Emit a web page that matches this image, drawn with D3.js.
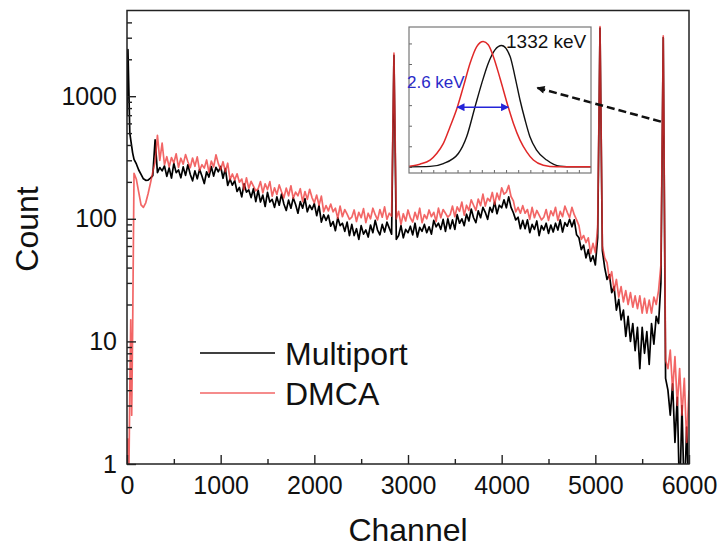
<!DOCTYPE html>
<html>
<head>
<meta charset="utf-8">
<script src="https://cdn.jsdelivr.net/npm/d3@7"></script>
<style>
  body { margin: 0; background: #fff; }
  svg { display: block; font-family: "Liberation Sans", Arial, sans-serif; }
</style>
</head>
<body>
<div id="chart"></div>
<script>
// spectrum channels (denser at the very start)
const channels = [
  0, 10, 20, 30, 40, 50, 60, 75, 100, 125, 150, 175, 200, 225, 250, 275, 300, 325, 350, 375,
  400, 425, 450, 475, 500, 525, 550, 575, 600, 625, 650, 675, 700, 725, 750, 775, 800, 825, 850, 875,
  900, 925, 950, 975, 1000, 1025, 1050, 1075, 1100, 1125, 1150, 1175, 1200, 1225, 1250, 1275, 1300, 1325, 1350, 1375,
  1400, 1425, 1450, 1475, 1500, 1525, 1550, 1575, 1600, 1625, 1650, 1675, 1700, 1725, 1750, 1775, 1800, 1825, 1850, 1875,
  1900, 1925, 1950, 1975, 2000, 2025, 2050, 2075, 2100, 2125, 2150, 2175, 2200, 2225, 2250, 2275, 2300, 2325, 2350, 2375,
  2400, 2425, 2450, 2475, 2500, 2525, 2550, 2575, 2600, 2625, 2650, 2675, 2700, 2725, 2750, 2775, 2800, 2825, 2850, 2875,
  2900, 2925, 2950, 2975, 3000, 3025, 3050, 3075, 3100, 3125, 3150, 3175, 3200, 3225, 3250, 3275, 3300, 3325, 3350, 3375,
  3400, 3425, 3450, 3475, 3500, 3525, 3550, 3575, 3600, 3625, 3650, 3675, 3700, 3725, 3750, 3775, 3800, 3825, 3850, 3875,
  3900, 3925, 3950, 3975, 4000, 4025, 4050, 4075, 4100, 4125, 4150, 4175, 4200, 4225, 4250, 4275, 4300, 4325, 4350, 4375,
  4400, 4425, 4450, 4475, 4500, 4525, 4550, 4575, 4600, 4625, 4650, 4675, 4700, 4725, 4750, 4775, 4800, 4825, 4850, 4875,
  4900, 4925, 4950, 4975, 5000, 5025, 5050, 5075, 5100, 5125, 5150, 5175, 5200, 5225, 5250, 5275, 5300, 5325, 5350, 5375,
  5400, 5425, 5450, 5475, 5500, 5525, 5550, 5575, 5600, 5625, 5650, 5675, 5700, 5725, 5750, 5775, 5800, 5825, 5850, 5875,
  5900, 5925, 5950, 5975, 6000
];

const multiport = [
  700, 2400, 1100, 500, 440, 390, 345, 305, 280, 250, 230, 212, 206, 207, 215, 225, 440, 238, 262, 246,
  270, 222, 260, 215, 283, 238, 250, 216, 265, 226, 276, 231, 204, 246, 212, 253, 223, 194, 242, 219,
  267, 223, 263, 242, 267, 214, 257, 187, 211, 188, 205, 167, 180, 151, 193, 165, 172, 149, 176, 138,
  171, 137, 156, 126, 164, 137, 144, 124, 151, 129, 159, 132, 117, 142, 122, 148, 131, 111, 138, 122,
  146, 114, 129, 119, 133, 106, 128, 94, 108, 97, 107, 87, 95, 80, 102, 88, 92, 79, 94, 73,
  90, 73, 83, 68, 88, 75, 81, 71, 89, 77, 97, 81, 74, 90, 78, 94, 84, 75, 2150, 68,
  73, 88, 70, 82, 77, 87, 74, 92, 71, 85, 79, 90, 77, 86, 75, 97, 86, 92, 82, 99,
  79, 100, 83, 98, 82, 108, 92, 100, 88, 109, 96, 120, 102, 93, 116, 102, 124, 113, 99, 124,
  113, 137, 110, 129, 123, 143, 123, 151, 124, 112, 98, 103, 83, 97, 83, 98, 77, 90, 82, 96,
  73, 88, 81, 92, 76, 89, 78, 92, 81, 98, 78, 93, 87, 99, 86, 98, 74, 70, 56, 61,
  48, 56, 45, 50, 42, 70, 3600, 55, 40, 32, 35, 25, 28, 18, 22, 15, 18, 11, 16, 10,
  14, 8.4, 13, 6, 13, 8, 12, 6.5, 14, 9.5, 16, 14, 30, 3000, 5, 4, 2.5, 4.5, 1.5, 3.5,
  0.5, 3, 0.5, 2, 0.5
];

const dmca = [
  0.5, 1.6, 0.8, 4, 15, 2.5, 12, 235, 210, 165, 130, 124, 135, 160, 195, 240, 290, 480, 300, 415,
  276, 321, 265, 316, 286, 339, 263, 312, 279, 334, 292, 261, 313, 268, 320, 248, 276, 259, 302, 239,
  295, 265, 333, 282, 252, 292, 242, 284, 209, 232, 207, 233, 199, 211, 173, 216, 177, 202, 185, 169,
  176, 201, 163, 193, 173, 201, 153, 179, 158, 189, 166, 148, 178, 154, 186, 147, 165, 154, 176, 138,
  167, 144, 174, 149, 135, 156, 129, 153, 114, 128, 116, 132, 114, 122, 101, 127, 104, 119, 109, 99,
  103, 118, 95, 113, 102, 121, 93, 111, 100, 122, 108, 98, 119, 103, 125, 99, 111, 105, 2250, 100,
  115, 90, 110, 96, 118, 102, 94, 113, 99, 122, 93, 108, 100, 118, 104, 113, 95, 122, 102, 119,
  111, 103, 108, 127, 104, 125, 115, 137, 107, 129, 117, 143, 129, 117, 145, 128, 159, 127, 147, 139,
  164, 131, 162, 143, 179, 159, 165, 187, 152, 140, 114, 124, 111, 128, 111, 119, 99, 124, 102, 117,
  107, 98, 103, 119, 97, 116, 106, 124, 97, 115, 104, 127, 113, 102, 124, 108, 98, 88, 68, 73,
  64, 70, 52, 63, 53, 85, 3700, 60, 48, 44, 32, 37, 26, 32, 23, 28, 21, 26, 20, 25,
  19, 23.5, 18.5, 23.5, 17, 22.4, 17, 21.7, 17, 23, 20, 26, 42, 3100, 7, 6, 8.5, 4, 7.5, 3,
  6, 2.5, 5, 1.5, 4
];

const xMajor = [0, 1000, 2000, 3000, 4000, 5000, 6000];
const xMinor = [500, 1500, 2500, 3500, 4500, 5500];
const yMajor = [1, 10, 100, 1000];
const yMinor = [2, 3, 4, 5, 6, 7, 8, 9, 20, 30, 40, 50, 60, 70, 80, 90,
                200, 300, 400, 500, 600, 700, 800, 900, 2000, 3000, 4000];

// inset: 1332 keV peak (energy in keV, relative height)
const insetRedE = [1327.5, 1327.55, 1328.04, 1328.54, 1328.87, 1329.2, 1329.53, 1329.89, 1330.19, 1330.52,
  1330.85, 1331.17, 1331.42, 1331.67, 1332.0, 1332.41, 1332.66, 1332.99, 1333.32, 1333.65, 1334.14, 1334.8, 1336.5];
const insetRedV = [0.02, 0.03, 0.13, 0.33, 0.65, 1.14, 1.95, 2.9, 3.9, 5.04,
  5.85, 6.1, 5.94, 5.37, 4.31, 2.9, 2.12, 1.3, 0.73, 0.33, 0.08, 0, 0];
const insetBlackE = [1327.5, 1328.54, 1329.2, 1329.94, 1330.35, 1330.76, 1331.1, 1331.42, 1331.75, 1332.08,
  1332.5, 1332.74, 1332.99, 1333.24, 1333.48, 1333.81, 1334.31, 1334.97, 1335.63, 1336.5];
const insetBlackV = [0, 0.02, 0.16, 0.65, 1.46, 2.9, 4.07, 5.04, 5.69, 5.9,
  5.37, 4.39, 3.25, 2.28, 1.46, 0.81, 0.33, 0.03, 0, 0];
const fwhmBounds = [1329.89, 1332.41];
const fwhmLevel = 2.9;

// dashed pointer from the 1332 keV peak to the inset (channel, count)
const pointerFrom = [5700, 620];
const pointerTo = [4380, 1170];

const width = 722, height = 549;
const svg = d3.select("#chart").append("svg")
  .attr("width", width)
  .attr("height", height);

const x = d3.scaleLinear().domain([0, 6000]).range([127, 689]);
const y = d3.scaleLog().domain([1, 5000]).range([464, 10.5]);

const defs = svg.append("defs");
defs.append("clipPath").attr("id", "plotClip")
  .append("rect")
  .attr("x", 127).attr("y", 10.5)
  .attr("width", 562).attr("height", 453.5);

function marker(id, color, w, h) {
  defs.append("marker")
    .attr("id", id)
    .attr("viewBox", "0 0 10 10")
    .attr("refX", 9).attr("refY", 5)
    .attr("markerUnits", "userSpaceOnUse")
    .attr("markerWidth", w).attr("markerHeight", h)
    .attr("orient", "auto-start-reverse")
    .append("path")
    .attr("d", "M0,0 L10,5 L0,10 Z")
    .attr("fill", color);
}
marker("arrowBlack", "#111", 11, 8);
marker("arrowBlue", "#2424d8", 10, 8);

// spectra
const pts = (vals) => channels.map((c, i) => [c, vals[i]]);
const line = d3.line()
  .x(d => x(d[0]))
  .y(d => y(Math.max(d[1], 0.3)));

const plot = svg.append("g").attr("clip-path", "url(#plotClip)");
plot.append("path")
  .datum(pts(multiport))
  .attr("fill", "none")
  .attr("stroke", "#000")
  .attr("stroke-width", 1.7)
  .attr("stroke-linejoin", "round")
  .attr("d", line);
plot.append("path")
  .datum(pts(dmca))
  .attr("fill", "none")
  .attr("stroke", "#ee3333")
  .attr("stroke-opacity", 0.75)
  .attr("stroke-width", 1.7)
  .attr("stroke-linejoin", "round")
  .attr("d", line);

// frame
svg.append("rect")
  .attr("x", 127).attr("y", 10.5)
  .attr("width", 562).attr("height", 453.5)
  .attr("fill", "none")
  .attr("stroke", "#222")
  .attr("stroke-width", 1.5);

// axes (ticks inward)
function styleAxis(g) {
  g.select(".domain").remove();
  g.selectAll(".tick line").attr("stroke", "#222").attr("stroke-width", 1.4);
  g.selectAll(".tick text").attr("font-size", 25).attr("fill", "#111")
    .attr("font-family", "Liberation Sans, Arial, sans-serif");
}

svg.append("g")
  .attr("transform", "translate(127,0)")
  .call(d3.axisLeft(y).tickValues(yMajor).tickFormat(d3.format("d"))
    .tickSizeInner(-9).tickSizeOuter(0).tickPadding(10))
  .call(styleAxis);
svg.append("g")
  .attr("transform", "translate(127,0)")
  .call(d3.axisLeft(y).tickValues(yMinor).tickFormat("")
    .tickSizeInner(-5).tickSizeOuter(0))
  .call(styleAxis);

svg.append("g")
  .attr("transform", "translate(0,464)")
  .call(d3.axisBottom(x).tickValues(xMajor).tickFormat(d3.format("d"))
    .tickSizeInner(-9).tickSizeOuter(0).tickPadding(12))
  .call(styleAxis);
svg.append("g")
  .attr("transform", "translate(0,464)")
  .call(d3.axisBottom(x).tickValues(xMinor).tickFormat("")
    .tickSizeInner(-5).tickSizeOuter(0))
  .call(styleAxis);

// axis titles
svg.append("text")
  .attr("x", 408).attr("y", 541)
  .attr("text-anchor", "middle")
  .attr("font-size", 32)
  .attr("fill", "#111")
  .text("Channel");
svg.append("text")
  .attr("transform", "translate(38,229) rotate(-90)")
  .attr("text-anchor", "middle")
  .attr("font-size", 32)
  .attr("fill", "#111")
  .text("Count");

// legend
const legend = svg.append("g");
[["Multiport", "#000", 1, 353], ["DMCA", "#ee3333", 0.75, 393]].forEach(([name, color, op, ly]) => {
  legend.append("line")
    .attr("x1", 200).attr("x2", 275)
    .attr("y1", ly).attr("y2", ly)
    .attr("stroke", color)
    .attr("stroke-opacity", op)
    .attr("stroke-width", 1.5);
  legend.append("text")
    .attr("x", 285).attr("y", ly)
    .attr("dy", "0.36em")
    .attr("font-size", 32)
    .attr("fill", "#111")
    .text(name);
});

// dashed pointer into the inset
svg.append("line")
  .attr("x1", x(pointerFrom[0])).attr("y1", y(pointerFrom[1]))
  .attr("x2", x(pointerTo[0])).attr("y2", y(pointerTo[1]))
  .attr("stroke", "#111")
  .attr("stroke-width", 2.5)
  .attr("stroke-dasharray", "8,4")
  .attr("marker-end", "url(#arrowBlack)");

// inset
const ix = d3.scaleLinear().domain([1327.5, 1336.5]).range([409, 591]);
const iy = d3.scaleLinear().domain([-0.3, 6.8]).range([173, 27]);
const inset = svg.append("g");

inset.append("g")
  .attr("transform", "translate(0,173)")
  .call(d3.axisBottom(ix).tickValues(d3.range(1328.1, 1336.4, 0.6)).tickFormat("")
    .tickSizeInner(-3).tickSizeOuter(0))
  .call(g => {
    g.select(".domain").remove();
    g.selectAll(".tick line").attr("stroke", "#666");
  });
inset.append("g")
  .attr("transform", "translate(409,0)")
  .call(d3.axisLeft(iy).tickValues([0, 1, 2, 3, 4, 5, 6]).tickFormat("")
    .tickSizeInner(-3).tickSizeOuter(0))
  .call(g => {
    g.select(".domain").remove();
    g.selectAll(".tick line").attr("stroke", "#666");
  });

const iline = d3.line()
  .x(d => ix(d[0]))
  .y(d => iy(d[1]))
  .curve(d3.curveMonotoneX);

inset.append("path")
  .datum(insetBlackE.map((e, i) => [e, insetBlackV[i]]))
  .attr("fill", "none")
  .attr("stroke", "#111")
  .attr("stroke-width", 1.4)
  .attr("d", iline);
inset.append("path")
  .datum(insetRedE.map((e, i) => [e, insetRedV[i]]))
  .attr("fill", "none")
  .attr("stroke", "#e02828")
  .attr("stroke-width", 1.5)
  .attr("d", iline);

inset.append("rect")
  .attr("x", 409).attr("y", 27)
  .attr("width", 182).attr("height", 146)
  .attr("fill", "none")
  .attr("stroke", "#777")
  .attr("stroke-width", 1.2);

inset.append("line")
  .attr("x1", ix(fwhmBounds[0])).attr("x2", ix(fwhmBounds[1]))
  .attr("y1", iy(fwhmLevel)).attr("y2", iy(fwhmLevel))
  .attr("stroke", "#2424d8")
  .attr("stroke-width", 1.5)
  .attr("marker-start", "url(#arrowBlue)")
  .attr("marker-end", "url(#arrowBlue)");

inset.append("text")
  .attr("x", 407).attr("y", 88)
  .attr("font-size", 17)
  .attr("fill", "#2a2ac8")
  .text("2.6 keV");
inset.append("text")
  .attr("x", 506).attr("y", 48)
  .attr("font-size", 19)
  .attr("fill", "#111")
  .text("1332 keV");
</script>
</body>
</html>
